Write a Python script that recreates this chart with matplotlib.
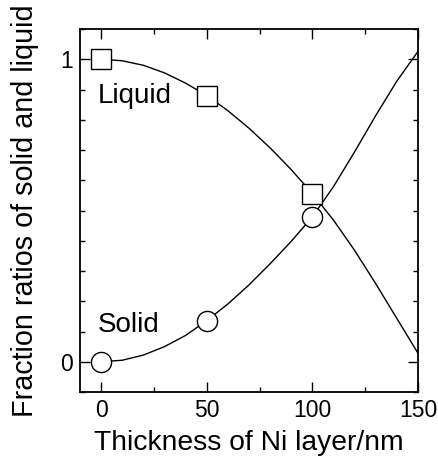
import matplotlib
matplotlib.use("Agg")
import matplotlib.pyplot as plt
from matplotlib.ticker import MultipleLocator, FixedLocator

plt.rcParams['font.family'] = ['Liberation Sans', 'DejaVu Sans']

# Measured data points
thickness = [0, 50, 100]
liquid = [1.0, 0.880, 0.556]
solid = [0.0, 0.136, 0.479]

# Smooth fit curves
curve_x = [0, 10, 20, 30, 40, 50, 60, 70, 80, 90, 100, 110, 120, 130, 140, 150]
liq_curve_y = [1.0, 0.995, 0.980, 0.955, 0.921, 0.880, 0.830, 0.772, 0.707, 0.635,
               0.556, 0.468, 0.368, 0.258, 0.143, 0.028]
sol_curve_y = [0.0, 0.005, 0.022, 0.050, 0.087, 0.136, 0.191, 0.254, 0.324, 0.398,
               0.479, 0.579, 0.694, 0.814, 0.928, 1.026]

fig = plt.figure(figsize=(4.39, 4.59), dpi=100)
ax = fig.add_axes([80/439, 67/459, 338/439, 363/459])

ax.plot(curve_x, liq_curve_y, color='black', lw=1.0, zorder=2)
ax.plot(curve_x, sol_curve_y, color='black', lw=1.0, zorder=2)
ax.plot(thickness, liquid, linestyle='none', marker='s', ms=14, mfc='white', mec='black', mew=1.0, zorder=3, clip_on=False)
ax.plot(thickness, solid, linestyle='none', marker='o', ms=14.5, mfc='white', mec='black', mew=1.0, zorder=3, clip_on=False)

ax.text(-1.5, 0.855, 'Liquid', fontsize=20)
ax.text(-1.5, 0.097, 'Solid', fontsize=20)

ax.set_xlim(-10, 150)
ax.set_ylim(-0.1, 1.1)
ax.xaxis.set_major_locator(FixedLocator([0, 50, 100, 150]))
ax.xaxis.set_minor_locator(MultipleLocator(25))
ax.yaxis.set_major_locator(FixedLocator([0, 1]))
ax.yaxis.set_minor_locator(MultipleLocator(0.1))
ax.set_yticklabels(['0', '1'])

ax.tick_params(which='both', direction='in', top=True, right=True, width=1.0)
ax.tick_params(which='major', length=7, labelsize=16.5, pad=5)
ax.tick_params(which='minor', length=3.5)
for s in ax.spines.values():
    s.set_linewidth(1.3)

ax.set_xlabel('Thickness of Ni layer/nm', fontsize=20.3, labelpad=6)
ax.set_ylabel('Fraction ratios of solid and liquid', fontsize=20.7, labelpad=15)

fig.savefig('out.png', dpi=100)
